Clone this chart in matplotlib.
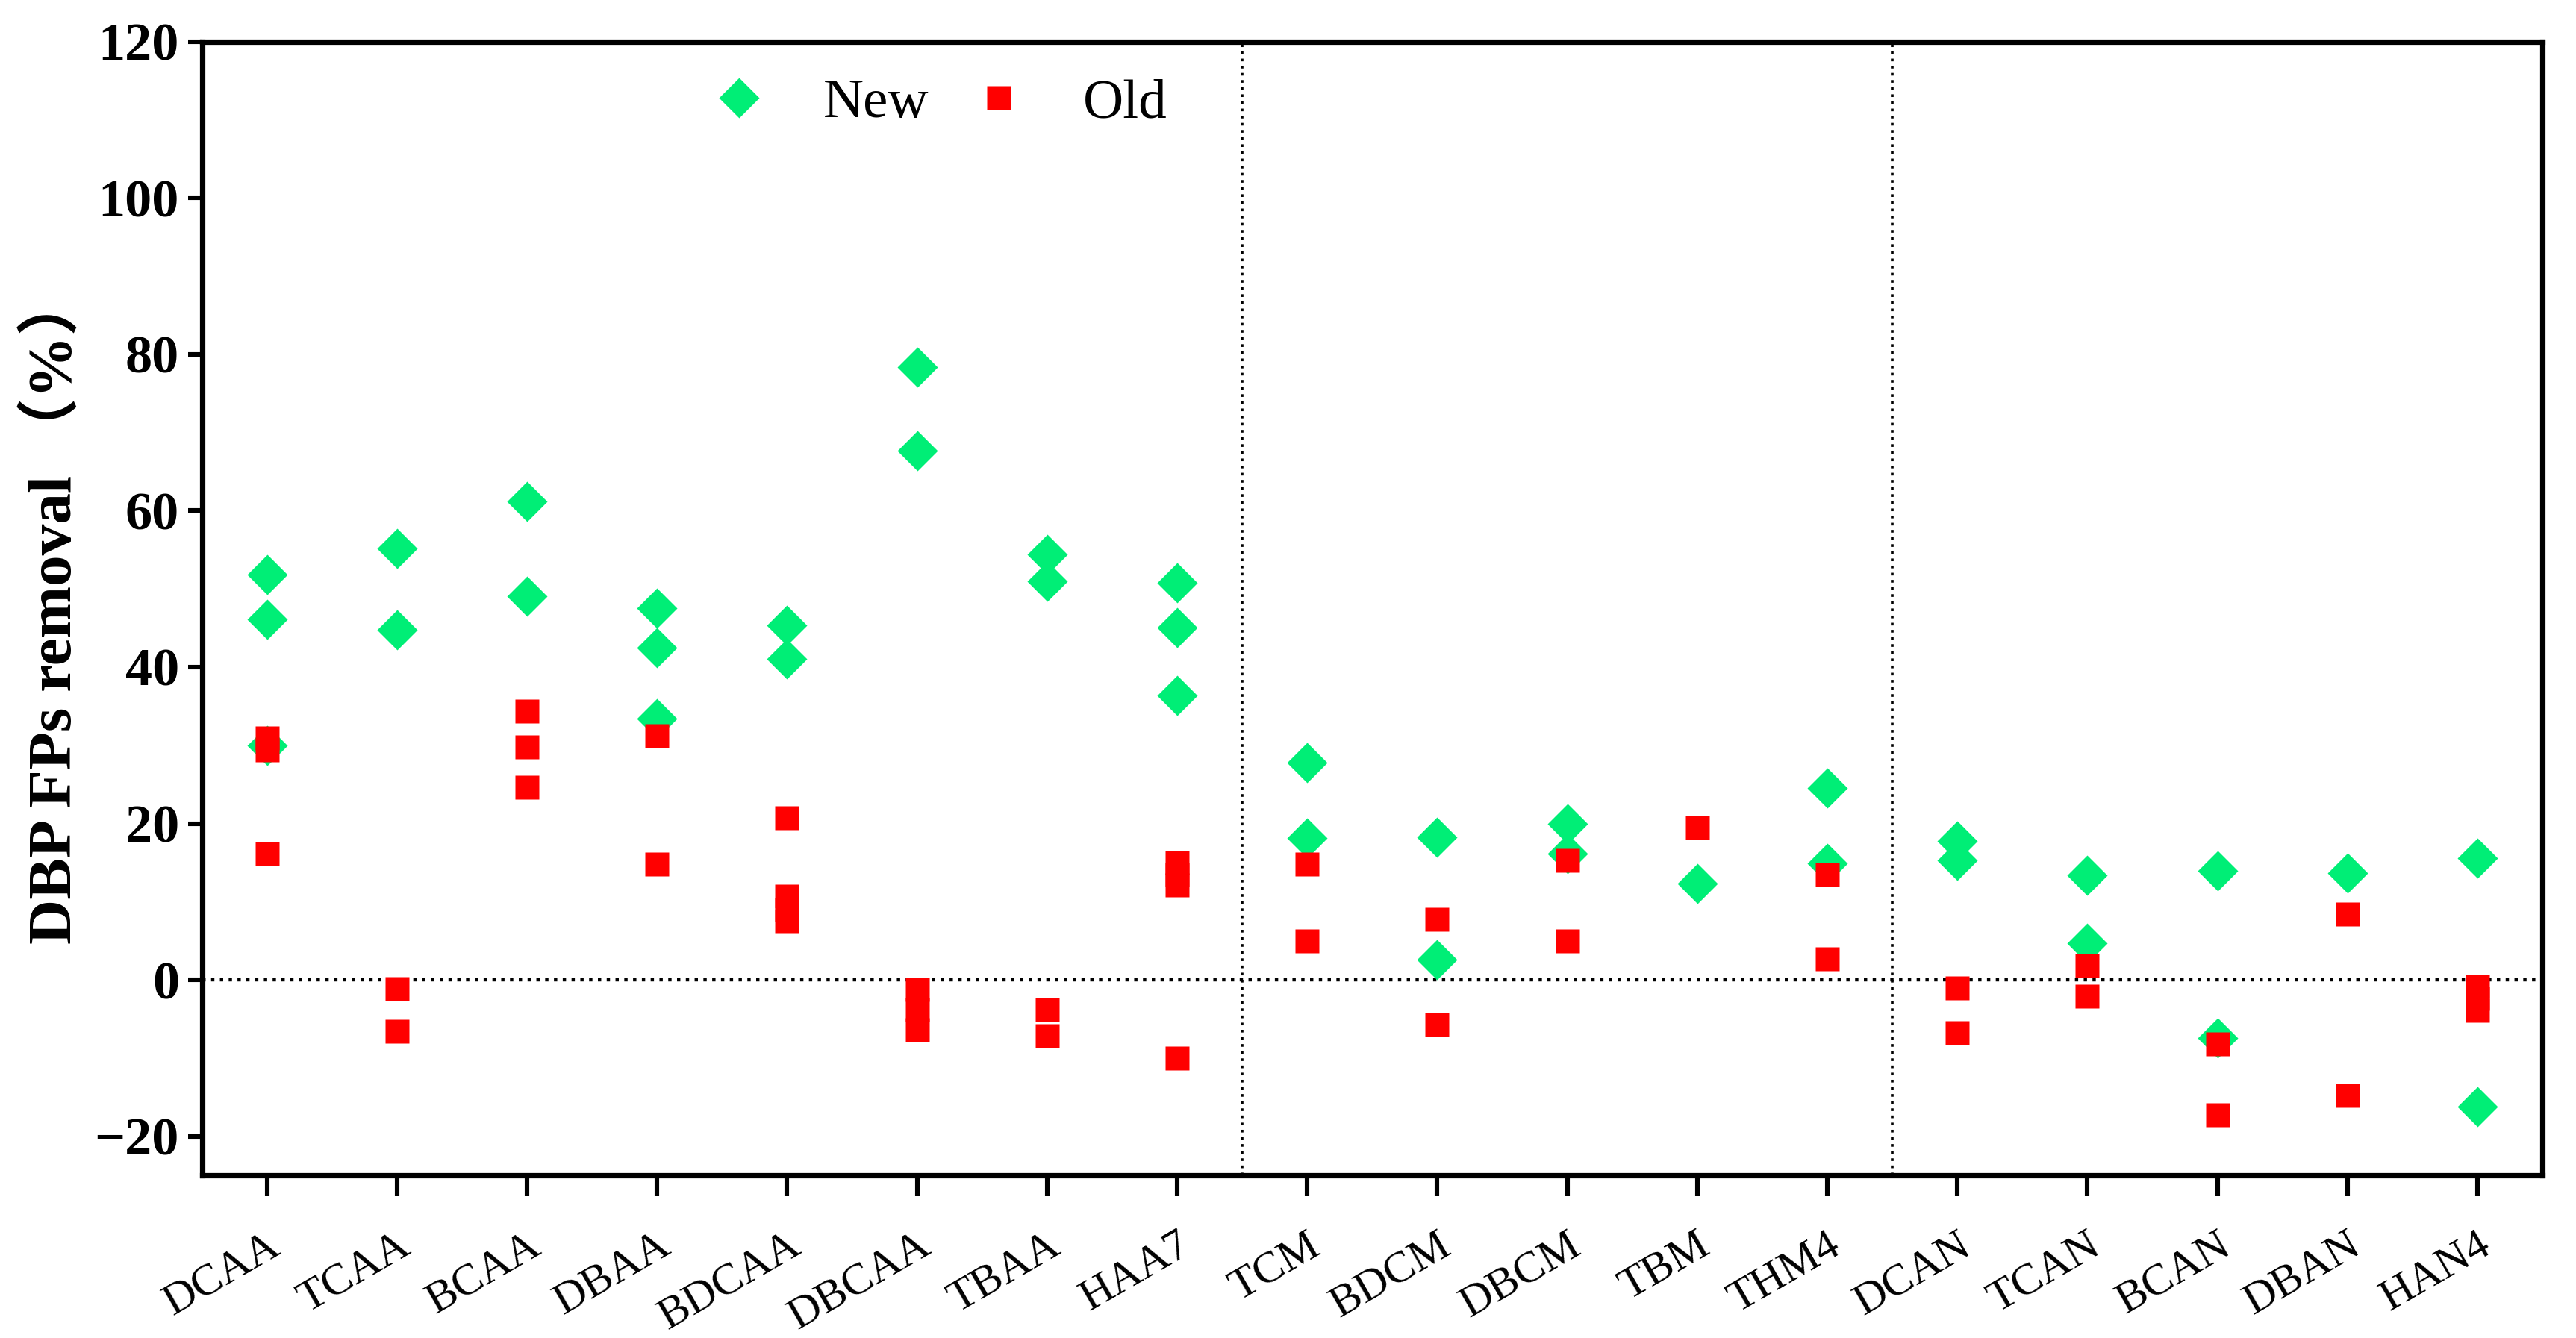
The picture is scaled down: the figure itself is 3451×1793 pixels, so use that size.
import matplotlib
matplotlib.use("Agg")
import matplotlib.pyplot as plt

plt.rcParams['font.family'] = ['Liberation Serif', 'Noto Sans CJK SC']

categories = ["DCAA", "TCAA", "BCAA", "DBAA", "BDCAA", "DBCAA", "TBAA", "HAA7",
              "TCM", "BDCM", "DBCM", "TBM", "THM4",
              "DCAN", "TCAN", "BCAN", "DBAN", "HAN4"]

# removal (%) per compound, new process
new_vals = [
    [51.8, 46.1, 30.0],
    [55.2, 44.8],
    [61.2, 49.1],
    [47.5, 42.5, 33.4],
    [45.3, 41.0],
    [78.4, 67.7],
    [54.4, 51.0],
    [50.8, 45.1, 36.4],
    [27.8, 18.1],
    [18.2, 2.6],
    [20.0, 16.1],
    [12.3],
    [24.5, 14.9],
    [17.8, 15.3],
    [13.4, 4.7],
    [13.9, -7.4],
    [13.7],
    [15.6, -16.2],
]

# removal (%) per compound, old process
old_vals = [
    [30.9, 29.4, 16.1],
    [-1.1, -6.6],
    [34.4, 29.8, 24.6],
    [31.2, 14.8],
    [20.7, 10.7, 9.0, 7.6],
    [-1.2, -3.8, -6.4],
    [-3.8, -7.1],
    [15.0, 13.5, 12.1, -10.0],
    [14.8, 5.0],
    [7.7, -5.7],
    [15.3, 5.0],
    [19.5],
    [13.5, 2.7],
    [-1.0, -6.8],
    [1.8, -2.1],
    [-8.2, -17.3],
    [8.4, -14.8],
    [-0.8, -2.4, -3.9],
]

green = "#00EE76"
red = "#FF0000"

fig = plt.figure(figsize=(17.255, 8.965), dpi=200)
ax = fig.add_axes([0.0784, 0.1215, 0.9086, 0.8475])

for i, vals in enumerate(new_vals):
    ax.plot([i] * len(vals), vals, linestyle='none', marker='D', ms=13.5,
            color=green, mec='none', zorder=3, label="New" if i == 0 else None)
for i, vals in enumerate(old_vals):
    ax.plot([i] * len(vals), vals, linestyle='none', marker='s', ms=11.5,
            color=red, mec='none', zorder=4, label="Old" if i == 0 else None)

ax.axhline(0, color='black', linestyle=':', lw=1.6, zorder=1)
ax.axvline(7.5, color='black', linestyle=':', lw=1.3, zorder=1)
ax.axvline(12.5, color='black', linestyle=':', lw=1.3, zorder=1)

ax.set_xlim(-0.5, len(categories) - 0.5)
ax.set_ylim(-25, 120)
ax.set_yticks(range(-20, 121, 20))
ax.set_yticklabels([str(v).replace('-', '\u2212') for v in range(-20, 121, 20)],
                   fontsize=26, fontweight='bold')
ax.set_xticks(range(len(categories)))
ax.set_xticklabels(categories, rotation=30, ha='right', rotation_mode='anchor',
                   fontsize=21.5)

for s in ax.spines.values():
    s.set_linewidth(2.6)
ax.tick_params(axis='y', length=7, width=2.2, direction='out', pad=4)
ax.tick_params(axis='x', length=10, width=2.2, direction='out', pad=14)

ax.set_ylabel("DBP FPs removal \uff08%\uff09", fontsize=30, fontweight='bold',
              labelpad=5)

ax.legend(loc='upper left', bbox_to_anchor=(0.196, 1.012), ncol=2, frameon=False,
          fontsize=27, handlelength=1.0, handletextpad=1.0, columnspacing=0.75)

fig.savefig("out.png", dpi=200)
